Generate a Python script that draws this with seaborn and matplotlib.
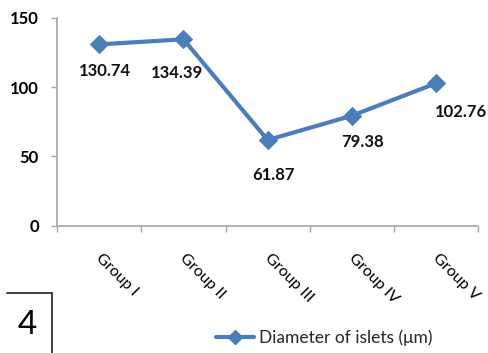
import matplotlib
matplotlib.use("Agg")
import matplotlib.pyplot as plt
import seaborn as sns
import pandas as pd
from matplotlib.lines import Line2D
from matplotlib.transforms import ScaledTranslation

groups = ["Group I", "Group II", "Group III", "Group IV", "Group V"]
diameter = [130.74, 134.39, 61.87, 79.38, 102.76]
y_ticks = [0, 50, 100, 150]
series_name = "Diameter of islets (\u03bcm)"

# label offsets (points) below each marker
label_dx = [4, -5, 4, 8, 18]
label_dy = [-19, -24, -25, -19, -21]

sns.set_theme(style="white")
plt.rcParams["font.family"] = ["Lato", "DejaVu Sans"]

line_color = "#4A7EBB"
axis_color = "#A6A6A6"

df = pd.DataFrame({"x": range(len(groups)), "y": diameter, "series": series_name})

fig = plt.figure(figsize=(4.88, 3.53), dpi=100)
ax = fig.add_axes([0.117, 0.36, 0.863, 0.59])

sns.lineplot(data=df, x="x", y="y", hue="series", palette=[line_color],
             marker="D", markersize=9, linewidth=3, markeredgecolor=line_color,
             ax=ax, legend=False)

ax.set_xlim(-0.5, len(groups) - 0.5)
ax.set_ylim(0, 150)
ax.set_yticks(y_ticks)
ax.set_yticklabels([str(t) for t in y_ticks], fontsize=12, fontweight="bold", color="black")

ax.set_xticks([i - 0.5 for i in range(len(groups) + 1)], minor=True)
ax.set_xticks(range(len(groups)))
ax.set_xticklabels(groups, rotation=-45, ha="left", va="center",
                   rotation_mode="anchor", fontsize=11.5, color="black")
ax.tick_params(axis="x", which="major", length=0, pad=22)
ax.tick_params(axis="x", which="minor", length=4, color=axis_color, width=1, direction="out")
ax.tick_params(axis="y", length=4, color=axis_color, width=1, direction="out", pad=9)
ax.tick_params(axis="both", bottom=True, left=True)
ax.tick_params(axis="x", which="minor", bottom=True)
for lbl in ax.get_xticklabels():
    lbl.set_transform(lbl.get_transform() + ScaledTranslation(-0.01, 0, fig.dpi_scale_trans))

ax.set_xlabel("")
ax.set_ylabel("")
for side in ["top", "right"]:
    ax.spines[side].set_visible(False)
for side in ["left", "bottom"]:
    ax.spines[side].set_color(axis_color)
    ax.spines[side].set_linewidth(1.2)

for i, v in enumerate(diameter):
    ax.annotate(f"{v:.2f}", (i, v), xytext=(label_dx[i], label_dy[i]),
                textcoords="offset points", ha="center", va="center",
                fontsize=12, fontweight="bold", color="#111111")

handle = Line2D([], [], color=line_color, marker="D", markersize=7, linewidth=3)
fig.legend([handle], [series_name], loc="center", bbox_to_anchor=(0.665, 0.043),
           frameon=False, fontsize=12.5, handlelength=2.2, handletextpad=0.3)

# panel number box
fig.add_artist(Line2D([7 / 488, 52 / 488], [1 - 293 / 353, 1 - 293 / 353],
                      transform=fig.transFigure, color="#333333", linewidth=1.3))
fig.add_artist(Line2D([52 / 488, 52 / 488], [1 - 293 / 353, 0],
                      transform=fig.transFigure, color="#333333", linewidth=1.3))
fig.text(27 / 488, 1 - 325 / 353, "4", fontsize=24, ha="center", va="center", color="black")

fig.savefig("out.png", dpi=100)
